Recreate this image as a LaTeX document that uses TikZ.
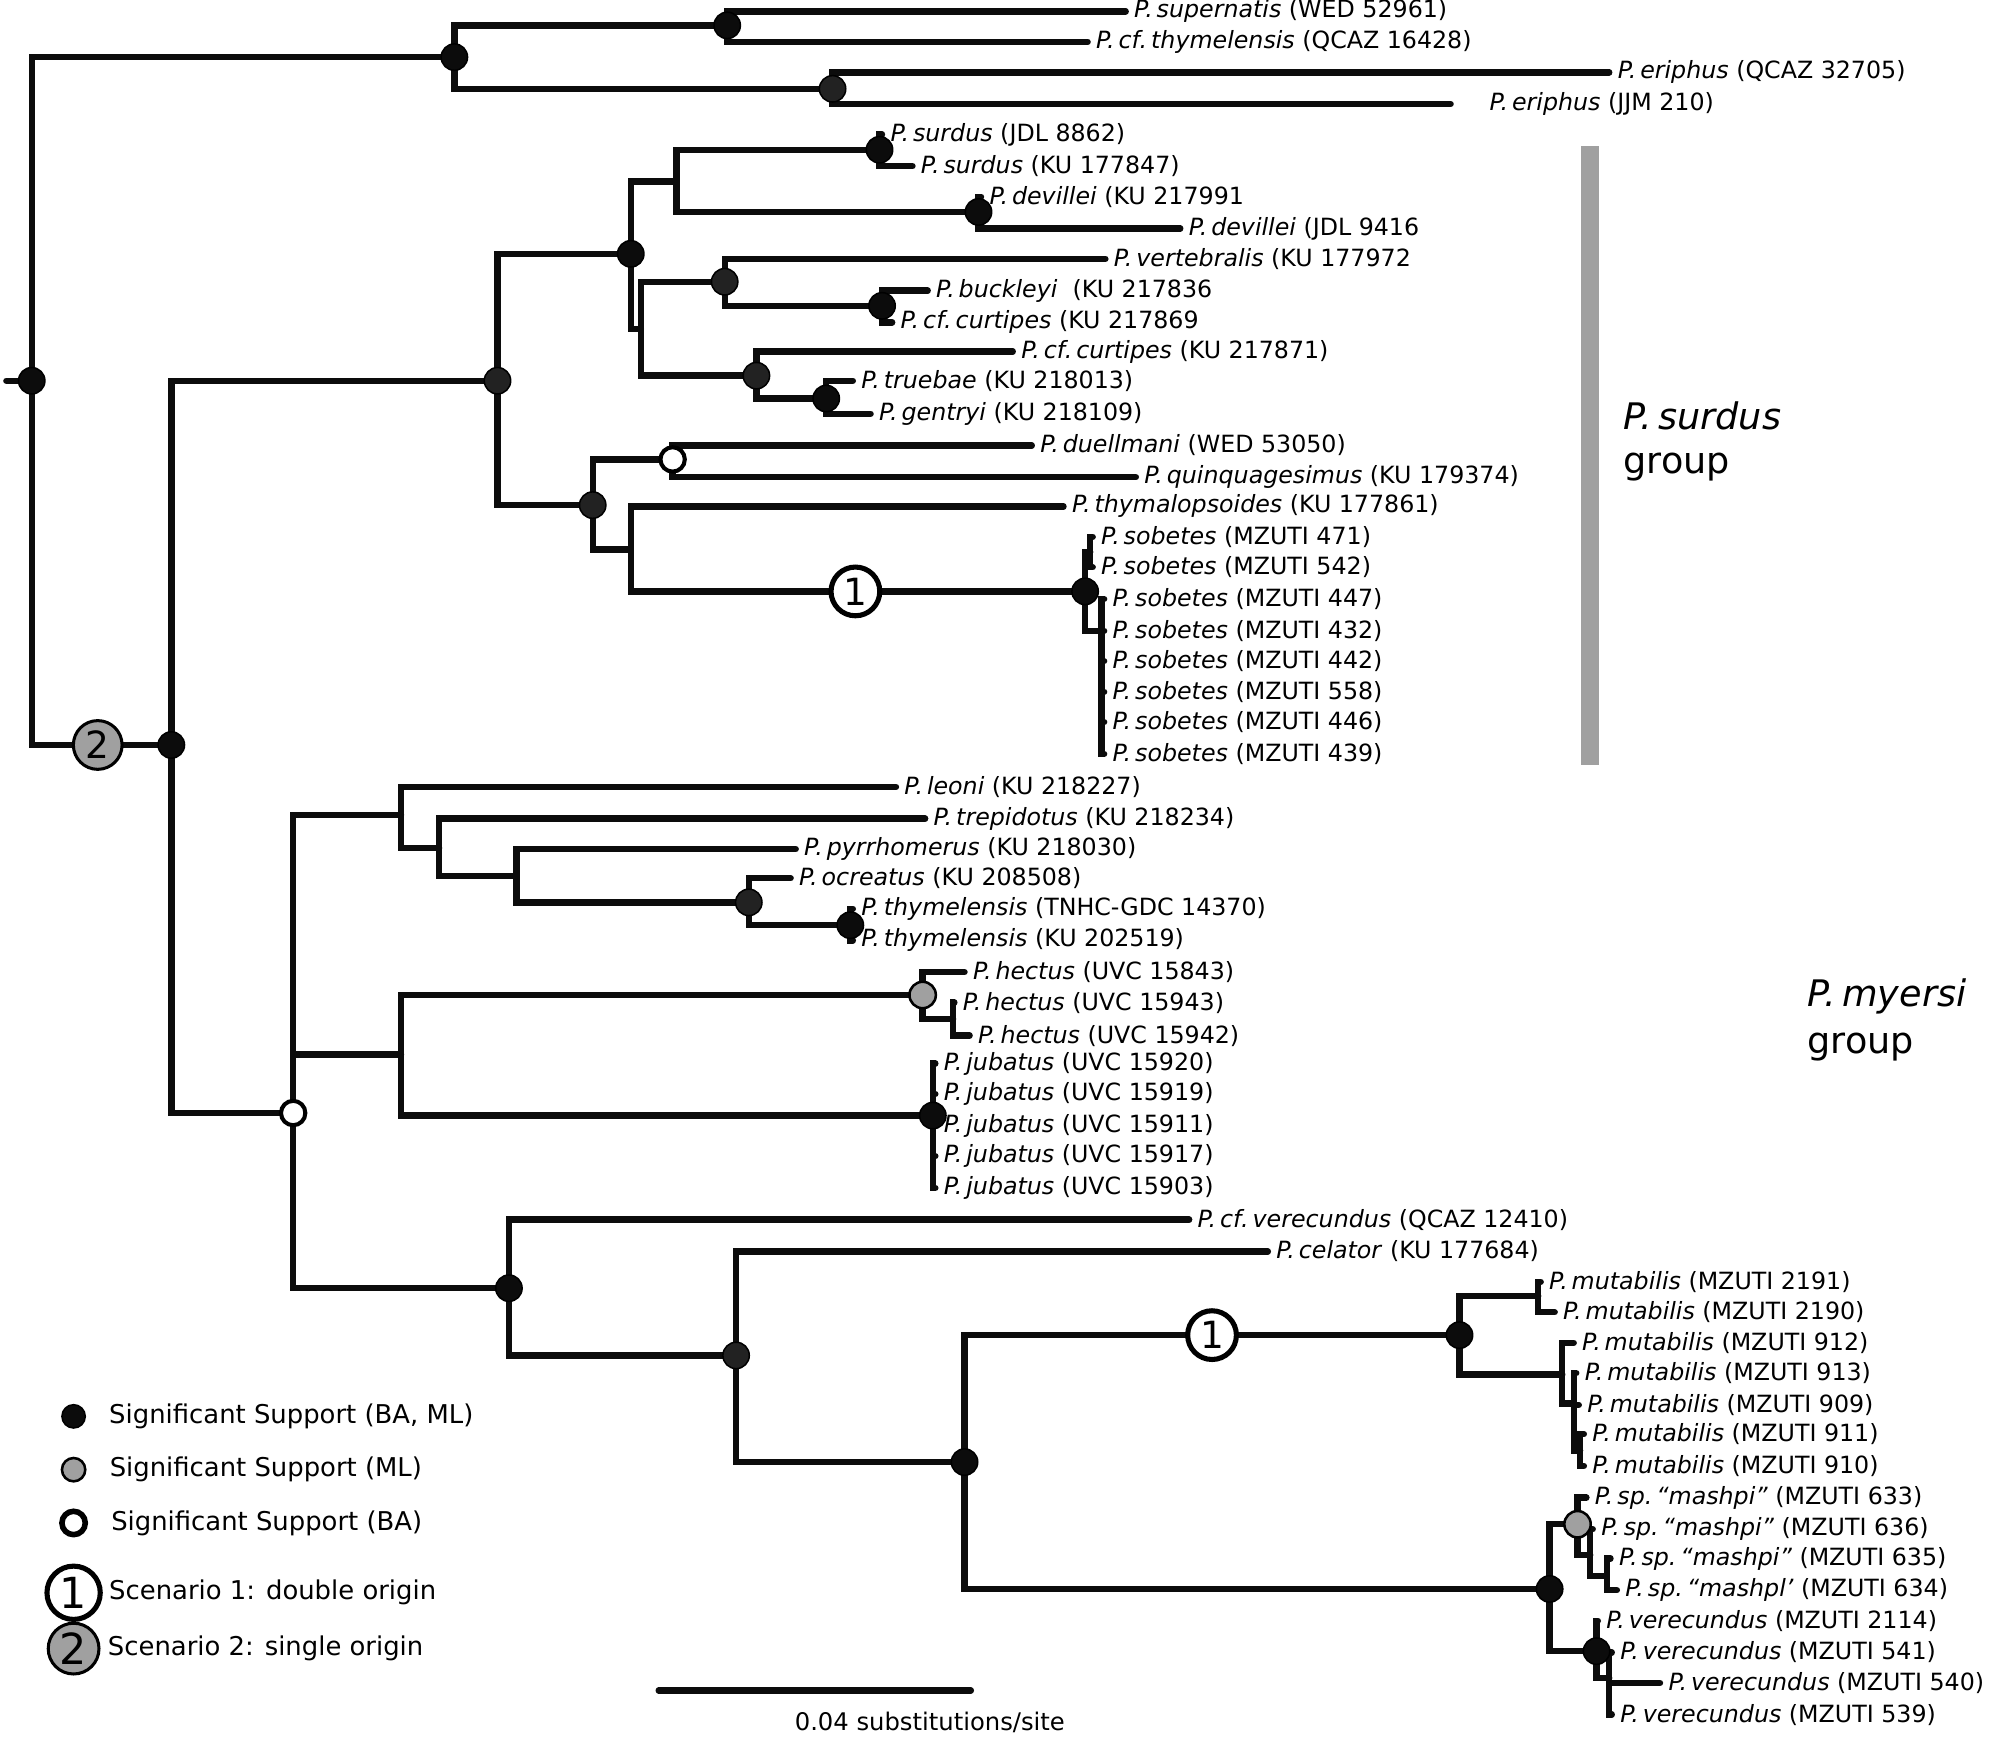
\documentclass[tikz,border=0pt]{standalone}
\usepackage{fontspec}
\setmainfont{DejaVu Sans}
\usetikzlibrary{positioning}
\definecolor{treeInk}{RGB}{12,12,12}
\definecolor{treeDark}{RGB}{34,34,34}
\definecolor{treeGray}{RGB}{160,160,160}
\newcommand{\taxon}[1]{\textit{P.\,#1}}

\begin{document}
\begin{tikzpicture}[x=0.25mm, y=-0.25mm,
    branch/.style={line width=1.25mm, draw=treeInk, line cap=round},
    leaf/.style={anchor=west, inner xsep=1.6mm, inner ysep=0pt, font=\fontsize{13.3}{15}\selectfont},
    bdot/.style={circle, inner sep=0pt, minimum size=5.2mm, fill=treeInk, draw=black, line width=0.3mm},
    ddot/.style={bdot, fill=treeDark},
    gdot/.style={bdot, fill=treeGray, line width=0.5mm},
    wdot/.style={bdot, fill=white, line width=0.8mm, minimum size=4.8mm},
    scen/.style={circle, inner sep=0pt, minimum size=9.6mm, draw=black, line width=1mm, fill=white,
      font=\fontsize{21}{21}\selectfont},
    legtext/.style={anchor=west, inner sep=0pt, font=\fontsize{14.5}{16}\selectfont},
    grouplab/.style={anchor=west, inner sep=0pt, font=\fontsize{20.5}{22}\selectfont}
  ]
  \useasboundingbox (0,0) rectangle (1568,1371);

  \coordinate (stub) at (5,300);
  \coordinate (root) at (25,300);
  \coordinate (nA) at (358,45);
  \coordinate (nB) at (573,20);
  \coordinate (nC) at (656,70);
  \coordinate (nD) at (135,587);
  \coordinate (nE) at (392,300);
  \coordinate (nF) at (497,200);
  \coordinate (nG) at (533,143);
  \coordinate (nH) at (505,259);
  \coordinate (nI) at (693,118);
  \coordinate (nJ) at (771,167);
  \coordinate (nK) at (571,222);
  \coordinate (nL) at (695,241);
  \coordinate (nM) at (596,296);
  \coordinate (nN) at (651,314);
  \coordinate (nO) at (467,398);
  \coordinate (nP) at (530,362);
  \coordinate (nQ) at (497,433);
  \coordinate (nR) at (855,466);
  \coordinate (nR1) at (859,435);
  \coordinate (nR2) at (868,497);
  \coordinate (nS) at (231,877);
  \coordinate (nT) at (316,642);
  \coordinate (nT2) at (346,668);
  \coordinate (nT3) at (407,690);
  \coordinate (nT4) at (590,711);
  \coordinate (nT5) at (670,729);
  \coordinate (nU) at (316,831);
  \coordinate (nU1) at (727,784);
  \coordinate (nU2) at (751,803);
  \coordinate (nU3) at (735,879);
  \coordinate (nV) at (401,1015);
  \coordinate (nW) at (580,1068);
  \coordinate (nX) at (760,1152);
  \coordinate (nY) at (1150,1052);
  \coordinate (nY1) at (1212,1021);
  \coordinate (nY2) at (1231,1083);
  \coordinate (nY3) at (1240,1106);
  \coordinate (nY4) at (1245,1143);
  \coordinate (nZ) at (1221,1252);
  \coordinate (nZ1) at (1243,1201);
  \coordinate (nZ2) at (1253,1225);
  \coordinate (nZ3) at (1266,1242);
  \coordinate (nZ4) at (1258,1301);
  \coordinate (nZ5) at (1268,1322);

  \node[leaf] (supernatis) at (887,9) {\taxon{supernatis} (WED 52961)};
  \node[leaf] (cfthym) at (857,33) {\taxon{cf.\,thymelensis} (QCAZ 16428)};
  \node[leaf] (eriphusQ) at (1268,57) {\taxon{eriphus} (QCAZ 32705)};
  \coordinate (eriphusJtip) at (1143,82);
  \node[leaf] (eriphusJ) at (1167,82) {\taxon{eriphus} (JJM 210)};
  \node[leaf] (surdusJ) at (695,106) {\taxon{surdus} (JDL 8862)};
  \node[leaf] (surdusK) at (719,131) {\taxon{surdus} (KU 177847)};
  \node[leaf] (devilleiK) at (773,155) {\taxon{devillei} (KU 217991};
  \node[leaf] (devilleiJ) at (930,180) {\taxon{devillei} (JDL 9416};
  \node[leaf] (vertebralis) at (871,204) {\taxon{vertebralis} (KU 177972};
  \node[leaf] (buckleyi) at (731,229) {\taxon{buckleyi}\ \ (KU 217836};
  \node[leaf] (curtipesA) at (703,254) {\taxon{cf.\,curtipes} (KU 217869};
  \node[leaf] (curtipesB) at (798,277) {\taxon{cf.\,curtipes} (KU 217871)};
  \node[leaf] (truebae) at (672,300) {\taxon{truebae} (KU 218013)};
  \node[leaf] (gentryi) at (686,326) {\taxon{gentryi} (KU 218109)};
  \node[leaf] (duellmani) at (813,351) {\taxon{duellmani} (WED 53050)};
  \node[leaf] (quinq) at (895,376) {\taxon{quinquagesimus} (KU 179374)};
  \node[leaf] (thymalop) at (838,399) {\taxon{thymalopsoides} (KU 177861)};
  \node[leaf] (sob471) at (861,423) {\taxon{sobetes} (MZUTI 471)};
  \node[leaf] (sob542) at (861,447) {\taxon{sobetes} (MZUTI 542)};
  \node[leaf] (leoni) at (706,620) {\taxon{leoni} (KU 218227)};
  \node[leaf] (trepidotus) at (729,645) {\taxon{trepidotus} (KU 218234)};
  \node[leaf] (pyrrhomerus) at (627,669) {\taxon{pyrrhomerus} (KU 218030)};
  \node[leaf] (ocreatus) at (623,692) {\taxon{ocreatus} (KU 208508)};
  \node[leaf] (thymTNHC) at (672,716) {\taxon{thymelensis} (TNHC-GDC 14370)};
  \node[leaf] (thymKU) at (672,741) {\taxon{thymelensis} (KU 202519)};
  \node[leaf] (hectusA) at (760,766) {\taxon{hectus} (UVC 15843)};
  \node[leaf] (hectusB) at (752,790) {\taxon{hectus} (UVC 15943)};
  \node[leaf] (hectusC) at (764,816) {\taxon{hectus} (UVC 15942)};
  \node[leaf] (cfverec) at (937,961) {\taxon{cf.\,verecundus} (QCAZ 12410)};
  \node[leaf] (celator) at (999,986) {\taxon{celator} (KU 177684)};
  \node[leaf] (mut2191) at (1214,1010) {\taxon{mutabilis} (MZUTI 2191)};
  \node[leaf] (mut2190) at (1225,1034) {\taxon{mutabilis} (MZUTI 2190)};
  \node[leaf] (mut912) at (1240,1058) {\taxon{mutabilis} (MZUTI 912)};
  \node[leaf] (mut913) at (1242,1082) {\taxon{mutabilis} (MZUTI 913)};
  \node[leaf] (mut909) at (1244,1107) {\taxon{mutabilis} (MZUTI 909)};
  \node[leaf] (mut911) at (1248,1130) {\taxon{mutabilis} (MZUTI 911)};
  \node[leaf] (mut910) at (1248,1155) {\taxon{mutabilis} (MZUTI 910)};
  \node[leaf] (mash633) at (1250,1180) {\taxon{sp.}\,\textit{“mashpi”} (MZUTI 633)};
  \node[leaf] (mash636) at (1255,1205) {\taxon{sp.}\,\textit{“mashpi”} (MZUTI 636)};
  \node[leaf] (mash635) at (1269,1228) {\taxon{sp.}\,\textit{“mashpi”} (MZUTI 635)};
  \node[leaf] (mash634) at (1274,1253) {\taxon{sp.}\,\textit{“mashpl’} (MZUTI 634)};
  \node[leaf] (ver2114) at (1259,1277) {\taxon{verecundus} (MZUTI 2114)};
  \node[leaf] (ver541) at (1270,1302) {\taxon{verecundus} (MZUTI 541)};
  \node[leaf] (ver540) at (1308,1326) {\taxon{verecundus} (MZUTI 540)};
  \node[leaf] (ver539) at (1270,1351) {\taxon{verecundus} (MZUTI 539)};

  \foreach \v/\y [count=\i] in {447/472,432/497,442/521,558/545,446/569,439/594} {
    \node[leaf] (sobB\i) at (870,\y) {\taxon{sobetes} (MZUTI \v)};
    \draw[branch] (nR2) |- (sobB\i.west);
  }
  \foreach \v/\y [count=\i] in {15920/838,15919/862,15911/887,15917/911,15903/936} {
    \node[leaf] (jub\i) at (737,\y) {\taxon{jubatus} (UVC \v)};
    \draw[branch] (nU3) |- (jub\i.west);
  }

  \draw[branch] (stub) -- (root);
  \draw[branch] (root) |- (nA);
  \draw[branch] (root) |- (nD);
  \draw[branch] (nA) |- (nB);
  \draw[branch] (nA) |- (nC);
  \draw[branch] (nB) |- (supernatis.west);
  \draw[branch] (nB) |- (cfthym.west);
  \draw[branch] (nC) |- (eriphusQ.west);
  \draw[branch] (nC) |- (eriphusJtip);
  \draw[branch] (nD) |- (nE);
  \draw[branch] (nD) |- (nS);
  \draw[branch] (nE) |- (nF);
  \draw[branch] (nE) |- (nO);
  \draw[branch] (nF) |- (nG);
  \draw[branch] (nF) |- (nH);
  \draw[branch] (nG) |- (nI);
  \draw[branch] (nG) |- (nJ);
  \draw[branch] (nI) |- (surdusJ.west);
  \draw[branch] (nI) |- (surdusK.west);
  \draw[branch] (nJ) |- (devilleiK.west);
  \draw[branch] (nJ) |- (devilleiJ.west);
  \draw[branch] (nH) |- (nK);
  \draw[branch] (nH) |- (nM);
  \draw[branch] (nK) |- (vertebralis.west);
  \draw[branch] (nK) |- (nL);
  \draw[branch] (nL) |- (buckleyi.west);
  \draw[branch] (nL) |- (curtipesA.west);
  \draw[branch] (nM) |- (curtipesB.west);
  \draw[branch] (nM) |- (nN);
  \draw[branch] (nN) |- (truebae.west);
  \draw[branch] (nN) |- (gentryi.west);
  \draw[branch] (nO) |- (nP);
  \draw[branch] (nO) |- (nQ);
  \draw[branch] (nP) |- (duellmani.west);
  \draw[branch] (nP) |- (quinq.west);
  \draw[branch] (nQ) |- (thymalop.west);
  \draw[branch] (nQ) |- (nR);
  \draw[branch] (nR) |- (nR1);
  \draw[branch] (nR) |- (nR2);
  \draw[branch] (nR1) |- (sob471.west);
  \draw[branch] (nR1) |- (sob542.west);
  \draw[branch] (nS) |- (nT);
  \draw[branch] (nS) |- (nU);
  \draw[branch] (nS) |- (nV);
  \draw[branch] (nT) |- (leoni.west);
  \draw[branch] (nT) |- (nT2);
  \draw[branch] (nT2) |- (trepidotus.west);
  \draw[branch] (nT2) |- (nT3);
  \draw[branch] (nT3) |- (pyrrhomerus.west);
  \draw[branch] (nT3) |- (nT4);
  \draw[branch] (nT4) |- (ocreatus.west);
  \draw[branch] (nT4) |- (nT5);
  \draw[branch] (nT5) |- (thymTNHC.west);
  \draw[branch] (nT5) |- (thymKU.west);
  \draw[branch] (nU) |- (nU1);
  \draw[branch] (nU) |- (nU3);
  \draw[branch] (nU1) |- (hectusA.west);
  \draw[branch] (nU1) |- (nU2);
  \draw[branch] (nU2) |- (hectusB.west);
  \draw[branch] (nU2) |- (hectusC.west);
  \draw[branch] (nV) |- (cfverec.west);
  \draw[branch] (nV) |- (nW);
  \draw[branch] (nW) |- (celator.west);
  \draw[branch] (nW) |- (nX);
  \draw[branch] (nX) |- (nY);
  \draw[branch] (nX) |- (nZ);
  \draw[branch] (nY) |- (nY1);
  \draw[branch] (nY) |- (nY2);
  \draw[branch] (nY1) |- (mut2191.west);
  \draw[branch] (nY1) |- (mut2190.west);
  \draw[branch] (nY2) |- (mut912.west);
  \draw[branch] (nY2) |- (nY3);
  \draw[branch] (nY3) |- (mut913.west);
  \draw[branch] (nY3) |- (mut909.west);
  \draw[branch] (nY3) |- (nY4);
  \draw[branch] (nY4) |- (mut911.west);
  \draw[branch] (nY4) |- (mut910.west);
  \draw[branch] (nZ) |- (nZ1);
  \draw[branch] (nZ) |- (nZ4);
  \draw[branch] (nZ1) |- (mash633.west);
  \draw[branch] (nZ1) |- (nZ2);
  \draw[branch] (nZ2) |- (mash636.west);
  \draw[branch] (nZ2) |- (nZ3);
  \draw[branch] (nZ3) |- (mash635.west);
  \draw[branch] (nZ3) |- (mash634.west);
  \draw[branch] (nZ4) |- (ver2114.west);
  \draw[branch] (nZ4) |- (nZ5);
  \draw[branch] (nZ5) |- (ver541.west);
  \draw[branch] (nZ5) |- (ver540.west);
  \draw[branch] (nZ5) |- (ver539.west);

  \node[bdot] (dRoot) at (root) {};
  \node[bdot] (dA) at (nA) {};
  \node[bdot] (dB) at (nB) {};
  \node[ddot] (dC) at (nC) {};
  \node[bdot] (dD) at (nD) {};
  \node[ddot] (dE) at (nE) {};
  \node[bdot] (dF) at (nF) {};
  \node[bdot] (dI) at (nI) {};
  \node[bdot] (dJ) at (nJ) {};
  \node[ddot] (dK) at (nK) {};
  \node[bdot] (dL) at (nL) {};
  \node[ddot] (dM) at (nM) {};
  \node[bdot] (dN) at (nN) {};
  \node[ddot] (dO) at (nO) {};
  \node[wdot] (dP) at (nP) {};
  \node[bdot] (dR) at (nR) {};
  \node[wdot] (dS) at (nS) {};
  \node[ddot] (dT4) at (nT4) {};
  \node[bdot] (dT5) at (nT5) {};
  \node[gdot] (dU1) at (nU1) {};
  \node[bdot] (dU3) at (nU3) {};
  \node[bdot] (dV) at (nV) {};
  \node[ddot] (dW) at (nW) {};
  \node[bdot] (dX) at (nX) {};
  \node[bdot] (dY) at (nY) {};
  \node[bdot] (dZ) at (nZ) {};
  \node[gdot] (dZ1) at (nZ1) {};
  \node[bdot] (dZ4) at (nZ4) {};

  \node[scen] (scenA) at (674,466) {1};
  \node[scen] (scenB) at (955,1052) {1};
  \node[scen, fill=treeGray, line width=0.6mm] (scenC) at (77,587) {2};

  \fill[treeGray] (1246,115) rectangle (1260,603);
  \node[grouplab] (surdusGroup) at (1279,328) {\textit{P.\,surdus}};
  \node[grouplab] (surdusGroupB) at (1279,368) {group};
  \node[grouplab] (myersiGroup) at (1424,785) {\textit{P.\,myersi}};
  \node[grouplab] (myersiGroupB) at (1424,825) {group};

  \node[bdot, minimum size=4.6mm] (keyBoth) at (58,1116) {};
  \node[legtext, right=4.5mm of keyBoth] (keyBothText) {Significant Support (BA, ML)};
  \node[gdot, minimum size=4.6mm] (keyML) at (58,1158) {};
  \node[legtext, right=4.5mm of keyML] (keyMLText) {Significant Support (ML)};
  \node[wdot, minimum size=4.6mm, line width=1.1mm] (keyBA) at (58,1200) {};
  \node[legtext, right=4.5mm of keyBA] (keyBAText) {Significant Support (BA)};
  \node[scen, minimum size=10.5mm, font=\fontsize{24}{24}\selectfont] (keyScen1) at (58,1255) {1};
  \node[legtext, right=1.2mm of keyScen1] (keyScen1Text) {Scenario 1: double origin};
  \node[scen, fill=treeGray, line width=0.6mm, minimum size=10mm, font=\fontsize{24}{24}\selectfont] (keyScen2) at (58,1299) {2};
  \node[legtext, right=1.4mm of keyScen2] (keyScen2Text) {Scenario 2: single origin};

  \coordinate (barL) at (519,1332);
  \coordinate (barR) at (765,1332);
  \draw[branch] (barL) -- (barR);
  \node[legtext, font=\fontsize{13.6}{15}\selectfont] (barText) at (626,1357) {0.04 substitutions/site};
\end{tikzpicture}
\end{document}
